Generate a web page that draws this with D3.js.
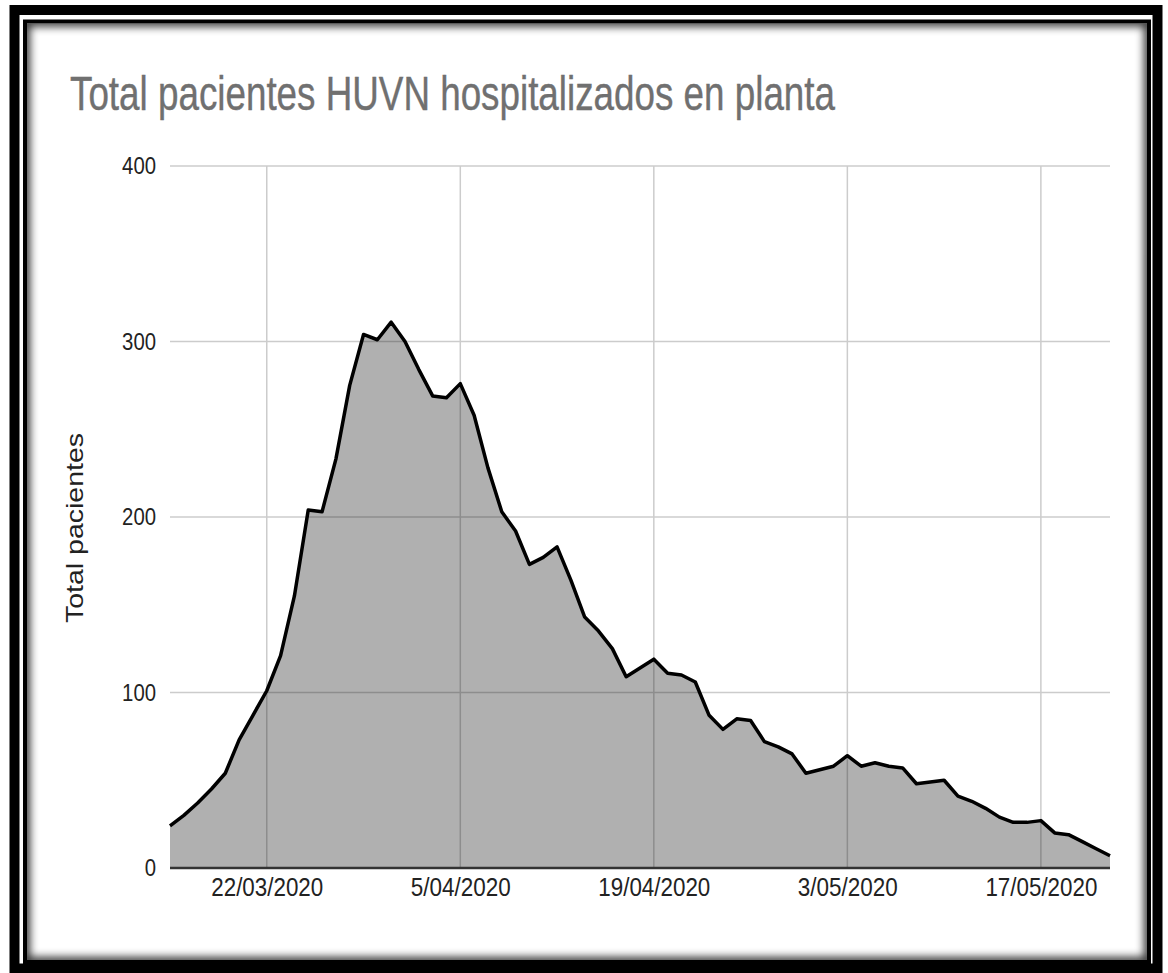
<!DOCTYPE html>
<html>
<head>
<meta charset="utf-8">
<script src="https://cdn.jsdelivr.net/npm/d3@7"></script>
<style>
  html, body { margin: 0; padding: 0; background: #fff; }
  svg { display: block; }
</style>
</head>
<body>
<svg id="chart" width="1168" height="973"></svg>
<script>
const titleText = "Total pacientes HUVN hospitalizados en planta";
const yAxisTitle = "Total pacientes";

const dates = [
  "2020-03-15","2020-03-16","2020-03-17","2020-03-18","2020-03-19","2020-03-20","2020-03-21",
  "2020-03-22","2020-03-23","2020-03-24","2020-03-25","2020-03-26","2020-03-27","2020-03-28",
  "2020-03-29","2020-03-30","2020-03-31","2020-04-01","2020-04-02","2020-04-03","2020-04-04",
  "2020-04-05","2020-04-06","2020-04-07","2020-04-08","2020-04-09","2020-04-10","2020-04-11",
  "2020-04-12","2020-04-13","2020-04-14","2020-04-15","2020-04-16","2020-04-17","2020-04-18",
  "2020-04-19","2020-04-20","2020-04-21","2020-04-22","2020-04-23","2020-04-24","2020-04-25",
  "2020-04-26","2020-04-27","2020-04-28","2020-04-29","2020-04-30","2020-05-01","2020-05-02",
  "2020-05-03","2020-05-04","2020-05-05","2020-05-06","2020-05-07","2020-05-08","2020-05-09",
  "2020-05-10","2020-05-11","2020-05-12","2020-05-13","2020-05-14","2020-05-15","2020-05-16",
  "2020-05-17","2020-05-18","2020-05-19","2020-05-20","2020-05-21","2020-05-22"
];

const pacientes = [
  24, 30, 37, 45, 54, 73, 87,
  101, 121, 155, 204, 203, 233, 275,
  304, 301, 311, 300, 284, 269, 268,
  276, 258, 228, 203, 192, 173, 177,
  183, 164, 143, 135, 125, 109, 114,
  119, 111, 110, 106, 87, 79, 85,
  84, 72, 69, 65, 54, 56, 58,
  64, 58, 60, 58, 57, 48, 49,
  50, 41, 38, 34, 29, 26, 26,
  27, 20, 19, 15, 11, 7
];

const xTickDates = ["2020-03-22","2020-04-05","2020-04-19","2020-05-03","2020-05-17"];
const yTicks = [0, 100, 200, 300, 400];

(function () {
const parse = d3.timeParse("%Y-%m-%d");
const fmt = d3.timeFormat("%-d/%m/%Y");
const data = dates.map((d, i) => ({ date: parse(d), value: pacientes[i] }));

const svg = d3.select("#chart");
const pLeft = 170, pRight = 1110, pTop = 166, pBottom = 868;
const FONT = "Liberation Sans, Arial, sans-serif";

// Frame
const defs = svg.append("defs");
const blur = defs.append("filter").attr("id", "blur").attr("x", "-5%").attr("y", "-5%").attr("width", "110%").attr("height", "110%");
blur.append("feGaussianBlur").attr("stdDeviation", 4);
defs.append("clipPath").attr("id", "innerClip")
  .append("rect").attr("x", 27).attr("y", 23.5).attr("width", 1120).attr("height", 936.5);

svg.append("rect").attr("x", 0).attr("y", 0).attr("width", 1168).attr("height", 973).attr("fill", "#fff");
svg.append("rect").attr("x", 14.5).attr("y", 10).attr("width", 1143).attr("height", 958.5)
  .attr("fill", "none").attr("stroke", "#000").attr("stroke-width", 10);
svg.append("g").attr("clip-path", "url(#innerClip)")
  .append("rect").attr("x", 25).attr("y", 21.5).attr("width", 1124).attr("height", 940.5)
  .attr("fill", "none").attr("stroke", "#000").attr("stroke-width", 10).attr("filter", "url(#blur)").attr("opacity", 0.8);
svg.append("rect").attr("x", 25).attr("y", 21.5).attr("width", 1124).attr("height", 940.5)
  .attr("fill", "none").attr("stroke", "#000").attr("stroke-width", 4);

// Scales
const x = d3.scaleTime().domain(d3.extent(data, d => d.date)).range([pLeft, pRight]);
const y = d3.scaleLinear().domain([0, 400]).range([pBottom, pTop]);

// Title
svg.append("text")
  .attr("x", 70).attr("y", 110)
  .attr("font-family", FONT)
  .attr("font-size", 48)
  .attr("fill", "#707070")
  .attr("stroke", "#707070").attr("stroke-width", 0.4)
  .attr("textLength", 765)
  .attr("lengthAdjust", "spacingAndGlyphs")
  .text(titleText);

// Gridlines
const grid = svg.append("g");
grid.selectAll("line.h").data(yTicks.filter(v => v > 0)).join("line")
  .attr("x1", pLeft).attr("x2", pRight)
  .attr("y1", d => y(d)).attr("y2", d => y(d))
  .attr("stroke", "#cccccc").attr("stroke-width", 1.5);
grid.selectAll("line.v").data(xTickDates.map(parse)).join("line")
  .attr("x1", d => x(d)).attr("x2", d => x(d))
  .attr("y1", pTop).attr("y2", pBottom)
  .attr("stroke", "#cccccc").attr("stroke-width", 1.5);

// Area + line
const area = d3.area().x(d => x(d.date)).y0(y(0)).y1(d => y(d.value));
const line = d3.line().x(d => x(d.date)).y(d => y(d.value));
svg.append("path").datum(data).attr("d", area)
  .attr("fill", "#000").attr("fill-opacity", 0.31);
svg.append("path").datum(data).attr("d", line)
  .attr("fill", "none").attr("stroke", "#000").attr("stroke-width", 3.5)
  .attr("stroke-linejoin", "round");

// Baseline
svg.append("line").attr("x1", pLeft).attr("x2", pRight).attr("y1", y(0)).attr("y2", y(0))
  .attr("stroke", "#333").attr("stroke-width", 2.5);

// Y axis labels
const yAxis = d3.axisLeft(y).tickValues(yTicks).tickSize(0).tickPadding(14).tickFormat(d3.format("d"));
const gy = svg.append("g").attr("transform", `translate(${pLeft},0)`).call(yAxis);
gy.select(".domain").remove();
gy.selectAll("text").attr("font-family", FONT)
  .attr("font-size", 24).attr("fill", "#222")
  .attr("textLength", d => String(d).length * 11.3)
  .attr("lengthAdjust", "spacingAndGlyphs");

// X axis labels
const xAxis = d3.axisBottom(x).tickValues(xTickDates.map(parse)).tickSize(0).tickPadding(10).tickFormat(fmt);
const gx = svg.append("g").attr("transform", `translate(0,${pBottom})`).call(xAxis);
gx.select(".domain").remove();
gx.selectAll("text").attr("font-family", FONT)
  .attr("font-size", 26).attr("fill", "#222")
  .attr("textLength", d => fmt(d).length === 9 ? 100 : 112)
  .attr("lengthAdjust", "spacingAndGlyphs");

// Y axis title
svg.append("text")
  .attr("transform", "translate(83,528) rotate(-90)")
  .attr("text-anchor", "middle")
  .attr("font-family", FONT)
  .attr("font-size", 24).attr("fill", "#222")
  .attr("textLength", 190)
  .attr("lengthAdjust", "spacingAndGlyphs")
  .text(yAxisTitle);
})();
</script>
</body>
</html>
